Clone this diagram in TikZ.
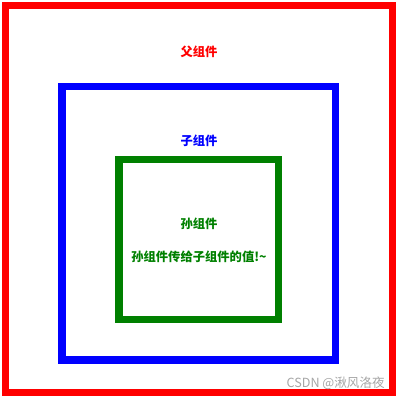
\documentclass[tikz,border=0pt]{standalone}
\usepackage{fontspec}
\setmainfont{Noto Sans CJK SC}
\usepackage[dvipsnames]{xcolor}
\usepackage{tikz}
\usetikzlibrary{
	positioning,									% 节点的高级摆放
}
\definecolor{sunGreen}{RGB}{0,128,0}
\tikzset{
	box/.style={line width=7.5pt},
	label/.style={font=\bfseries\fontsize{12.3}{14}\selectfont, inner sep=0pt},
}

\begin{document}
\begin{tikzpicture}[x=1pt, y=-1pt]
		\useasboundingbox (0,0) rectangle (400,400);
		% 父组件
		\draw[box, red, line width=7pt] (5.5,5.5) rectangle (392.5,392.5);
		\node[label, text=red] (fu) at (199,52) {父组件};
		% 子组件
		\draw[box, blue] (62,86.5) rectangle (335.5,360);
		\node[label, text=blue] (zi) at (199,141) {子组件};
		% 孙组件
		\draw[box, sunGreen] (119,159.5) rectangle (278.5,319.5);
		\node[label, text=sunGreen] (sun) at (199,224) {孙组件};
		\node[label, text=sunGreen, below=21pt of sun] (sunValue) {孙组件传给子组件的值!\textasciitilde};
		% 水印
		\node[inner sep=0pt, text=gray!70, font=\fontsize{12.6}{14}\selectfont, anchor=east] (mark) at (385,383) {CSDN @湫风洛夜};
	\end{tikzpicture}
\end{document}
